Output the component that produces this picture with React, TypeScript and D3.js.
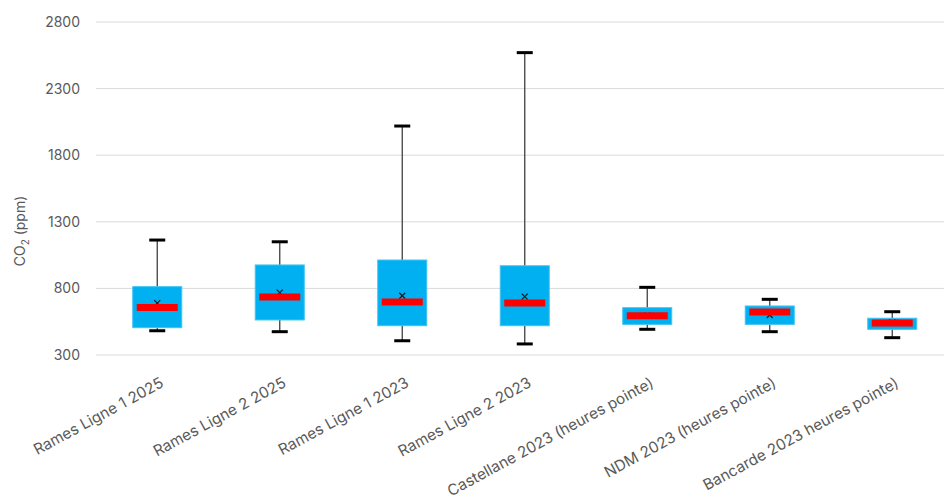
import React from "react";
import * as d3 from "d3";

const categories = [
  "Rames Ligne 1 2025",
  "Rames Ligne 2 2025",
  "Rames Ligne 1 2023",
  "Rames Ligne 2 2023",
  "Castellane 2023 (heures pointe)",
  "NDM 2023 (heures pointe)",
  "Bancarde 2023 heures pointe)",
];
const whiskerLow = [482, 475, 407, 383, 493, 475, 430];
const q1 = [505, 563, 520, 520, 530, 530, 493];
const median = [657, 735, 698, 690, 594, 623, 540];
const q3 = [813, 976, 1013, 970, 655, 668, 576];
const whiskerHigh = [1163, 1150, 2019, 2570, 808, 718, 625];
const means = [690, 768, 745, 738, 598, 600, 545];
const yTicks = [300, 800, 1300, 1800, 2300, 2800];

const W = 944;
const H = 499;
const FONT = "Inter, 'Liberation Sans', sans-serif";
const TEXT = "#595959";

export default function App() {
  const x = d3.scaleBand<string>().domain(categories).range([96, 953.5]).padding(0);
  const y = d3.scaleLinear().domain([300, 2800]).range([355, 22]);
  const bw = x.bandwidth() * 0.4;
  const capW = 16;

  return (
    <svg
      width={W}
      height={H}
      style={{ position: "absolute", left: 0, top: 0, background: "#fff" }}
      fontFamily={FONT}
    >
      {/* horizontal gridlines */}
      {yTicks.map((t) => (
        <line key={t} x1={96} x2={W} y1={y(t)} y2={y(t)} stroke="#d9d9d9" strokeWidth={1} />
      ))}
      {/* y tick labels */}
      {yTicks.map((t) => (
        <text key={"l" + t} x={80} y={y(t)} dy="0.35em" textAnchor="end" fontSize={14} fill={TEXT}>
          {t}
        </text>
      ))}
      {/* y axis title */}
      <text transform="translate(25,231) rotate(-90)" textAnchor="middle" fontSize={14} fill={TEXT}>
        CO<tspan fontSize={10} dy={4}>2</tspan>
        <tspan dy={-4}> (ppm)</tspan>
      </text>

      {categories.map((c, i) => {
        const cx = (x(c) as number) + x.bandwidth() / 2;
        const mx = 3;
        return (
          <g key={c}>
            {/* whiskers */}
            <line x1={cx} x2={cx} y1={y(whiskerHigh[i])} y2={y(q3[i])} stroke="#404040" strokeWidth={1.3} />
            <line x1={cx} x2={cx} y1={y(q1[i])} y2={y(whiskerLow[i])} stroke="#404040" strokeWidth={1.3} />
            <line x1={cx - capW / 2} x2={cx + capW / 2} y1={y(whiskerHigh[i])} y2={y(whiskerHigh[i])} stroke="#000" strokeWidth={3} />
            <line x1={cx - capW / 2} x2={cx + capW / 2} y1={y(whiskerLow[i])} y2={y(whiskerLow[i])} stroke="#000" strokeWidth={3} />
            {/* box */}
            <rect
              x={cx - bw / 2}
              y={y(q3[i])}
              width={bw}
              height={y(q1[i]) - y(q3[i])}
              fill="#00B0F0"
              stroke="#3FC3F3"
              strokeWidth={1}
            />
            {/* mean marker */}
            <g stroke="#1a1a1a" strokeWidth={1.2}>
              <line x1={cx - mx} x2={cx + mx} y1={y(means[i]) - mx} y2={y(means[i]) + mx} />
              <line x1={cx - mx} x2={cx + mx} y1={y(means[i]) + mx} y2={y(means[i]) - mx} />
            </g>
            {/* median */}
            <line
              x1={cx - bw / 2 + 4}
              x2={cx + bw / 2 - 4}
              y1={y(median[i])}
              y2={y(median[i])}
              stroke="#FF0000"
              strokeWidth={7}
            />
            {/* category label */}
            <text
              transform={`translate(${cx + 2},${376}) rotate(-28.5)`}
              textAnchor="end"
              dy="0.75em"
              fontSize={15.3}
              fill={TEXT}
            >
              {c}
            </text>
          </g>
        );
      })}
    </svg>
  );
}
